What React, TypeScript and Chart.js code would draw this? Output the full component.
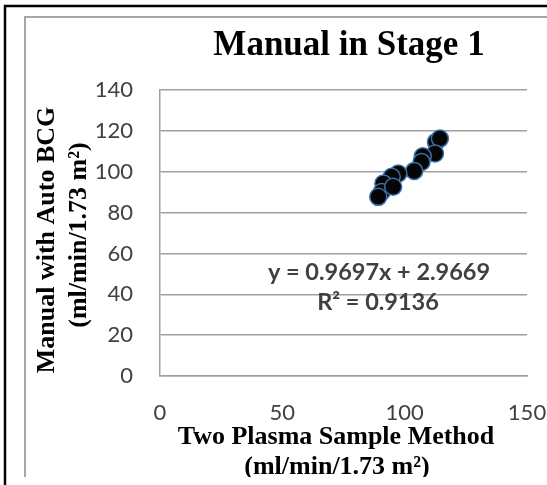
import React, { useEffect, useRef } from "react";
import { Chart, registerables } from "chart.js";

Chart.register(...registerables);

const xValues = [112.8, 114.4, 112.4, 107.4, 106.9, 103.9, 97.4, 94.7, 91.3, 90.6, 89.2, 95.3];
const yValues = [114.6, 116.2, 108.9, 107.6, 104.8, 100.4, 99.1, 97.5, 94.2, 90.1, 87.7, 92.6];
const titleText = "Manual in Stage 1";
const xTitleLines = ["Two Plasma Sample Method", "(ml/min/1.73 m²)"];
const yTitleLines = ["Manual with Auto BCG", "(ml/min/1.73 m²)"];
const equationLines = ["y = 0.9697x + 2.9669", "R² = 0.9136"];
const xMin = 0, xMax = 150, xStep = 50;
const yMin = 0, yMax = 140, yStep = 20;

const decor = {
  id: "decor",
  afterDraw(chart: any) {
    const ctx = chart.ctx as CanvasRenderingContext2D;
    const W = chart.width;
    const H = chart.height;
    ctx.save();
    ctx.beginPath();
    ctx.rect(0, 0, W, 477);
    ctx.clip();
    ctx.fillStyle = "#000";
    ctx.textAlign = "center";
    ctx.textBaseline = "alphabetic";
    ctx.font = "bold 35px 'Liberation Serif', 'Times New Roman', serif";
    ctx.fillText(titleText, 349, 55);

    ctx.font = "bold 26px 'Liberation Serif', 'Times New Roman', serif";
    ctx.fillText(xTitleLines[0], 336, 444);
    ctx.fillText(xTitleLines[1], 337, 474);

    ctx.save();
    ctx.translate(54, 240);
    ctx.rotate(-Math.PI / 2);
    ctx.fillText(yTitleLines[0], 0, 0);
    ctx.restore();
    ctx.save();
    ctx.translate(86, 235);
    ctx.rotate(-Math.PI / 2);
    ctx.fillText(yTitleLines[1], 0, 0);
    ctx.restore();

    ctx.fillStyle = "#404040";
    ctx.font = "bold 23.5px Lato, 'Open Sans', sans-serif";
    ctx.fillText(equationLines[0], 379, 280);
    ctx.fillText(equationLines[1], 378, 310);
    ctx.restore();

    ctx.save();
    ctx.fillStyle = "#fff";
    ctx.fillRect(0, 477, W, H - 477);
    ctx.strokeStyle = "#a6a6a6";
    ctx.lineWidth = 2;
    ctx.beginPath();
    ctx.moveTo(25, 477);
    ctx.lineTo(25, 17);
    ctx.lineTo(W, 17);
    ctx.stroke();
    ctx.strokeStyle = "#000";
    ctx.lineWidth = 2.5;
    ctx.beginPath();
    ctx.moveTo(5, H);
    ctx.lineTo(5, 6);
    ctx.lineTo(W, 6);
    ctx.stroke();
    ctx.restore();
  },
};

export default function App() {
  const ref = useRef<HTMLCanvasElement>(null);
  useEffect(() => {
    if (!ref.current) return;
    const chart = new Chart(ref.current, {
      type: "scatter",
      data: {
        datasets: [
          {
            data: xValues.map((x, i) => ({ x, y: yValues[i] })),
            backgroundColor: "#050505",
            borderColor: "#3d6fa8",
            borderWidth: 1.5,
            pointRadius: 8.5,
          },
        ],
      },
      options: {
        responsive: false,
        animation: false,
        layout: { padding: { left: 0, right: 20, top: 90, bottom: 0 } },
        plugins: { legend: { display: false }, tooltip: { enabled: false }, title: { display: false } },
        scales: {
          x: {
            type: "linear",
            min: xMin,
            max: xMax,
            grid: { display: false, drawTicks: false },
            border: { display: true, color: "#a0a0a0", width: 1.5 },
            ticks: {
              stepSize: xStep,
              color: "#404040",
              font: { family: "Lato, 'Open Sans', sans-serif", size: 22 },
              padding: 24,
              maxRotation: 0,
            },
            afterFit: (s: any) => {
              s.height = 109;
              s.paddingLeft = 0;
              s.paddingRight = 0;
            },
          },
          y: {
            type: "linear",
            min: yMin,
            max: yMax,
            grid: { color: "#a0a0a0", lineWidth: 1.5, drawTicks: false },
            border: { display: true, color: "#a0a0a0", width: 1.5 },
            ticks: {
              stepSize: yStep,
              color: "#404040",
              font: { family: "Lato, 'Open Sans', sans-serif", size: 22 },
              padding: 27,
            },
            afterFit: (s: any) => {
              s.width = 160;
              s.paddingTop = 0;
              s.paddingBottom = 0;
            },
          },
        },
      },
      plugins: [decor],
    } as any);
    return () => chart.destroy();
  }, []);
  return (
    <div style={{ position: "fixed", left: 0, top: 0, width: 547, height: 485, background: "#fff" }}>
      <canvas ref={ref} width={547} height={485} style={{ display: "block" }} />
    </div>
  );
}
